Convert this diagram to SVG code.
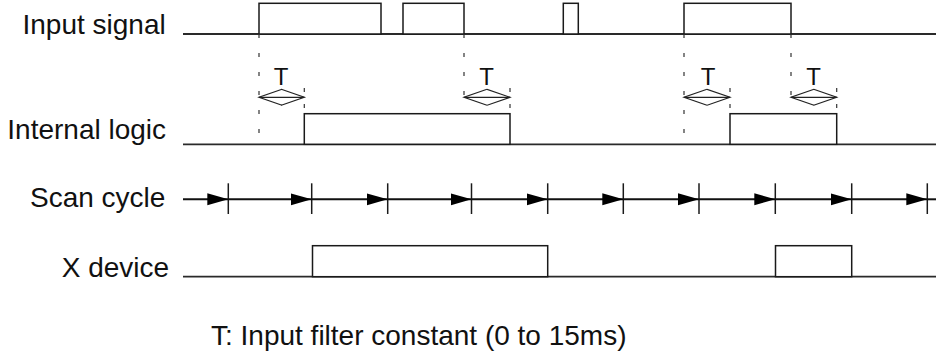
<svg xmlns="http://www.w3.org/2000/svg" width="938" height="353" viewBox="0 0 938 353">
<style>
.lbl{font-family:"Liberation Sans",Arial,sans-serif;font-size:28px;fill:#111}
.tl{font-family:"Liberation Sans",Arial,sans-serif;font-size:24px;fill:#111;text-anchor:middle}
.base{stroke:#2a2a2a;stroke-width:1.8;fill:none}
.pulse{stroke:#1a1a1a;stroke-width:1.5;fill:#fff}
.dash{stroke:#333;stroke-width:1.2;stroke-dasharray:4 15;fill:none}
.dash2{stroke:#333;stroke-width:1.2;stroke-dasharray:4 12;fill:none}
.tick{stroke:#1a1a1a;stroke-width:1.5}
.scan{stroke:#111;stroke-width:2;fill:none;marker-end:url(#fa)}
.tarr{stroke:#222;stroke-width:1.2;fill:none;marker-start:url(#oa);marker-end:url(#oa)}
</style>
<defs>
<marker id="fa" markerUnits="userSpaceOnUse" markerWidth="22" markerHeight="14" refX="21" refY="6" orient="auto">
<path d="M0,0 L21,6 L0,12 z" fill="#000"/>
</marker>
<marker id="oa" markerUnits="userSpaceOnUse" markerWidth="26" markerHeight="20" refX="23.5" refY="9" orient="auto-start-reverse">
<path d="M0.5,1 L23.5,9 L0.5,17" fill="none" stroke="#222" stroke-width="1.2"/>
</marker>
</defs>

<g id="input-signal">
<text class="lbl" x="22.5" y="34.3">Input signal</text>
<line class="base" x1="183" y1="34" x2="936" y2="34"/>
<rect class="pulse" x="259" y="3.3" width="122" height="30.7"/>
<rect class="pulse" x="403" y="3.3" width="61" height="30.7"/>
<rect class="pulse" x="563.3" y="3.3" width="15" height="30.7"/>
<rect class="pulse" x="684" y="3.3" width="107" height="30.7"/>
</g>

<g id="internal-logic">
<text class="lbl" x="7.3" y="139.3">Internal logic</text>
<line class="base" x1="183" y1="144.3" x2="936" y2="144.3"/>
<rect class="pulse" x="304.3" y="113.7" width="205.7" height="30.6"/>
<rect class="pulse" x="730" y="113.7" width="106.7" height="30.6"/>
</g>

<g id="scan-cycle">
<text class="lbl" x="30" y="207">Scan cycle</text>
<line class="tick" x1="228.3" y1="183.3" x2="228.3" y2="214"/>
<line class="tick" x1="311.7" y1="183.3" x2="311.7" y2="214"/>
<line class="tick" x1="387.7" y1="183.3" x2="387.7" y2="214"/>
<line class="tick" x1="471.5" y1="183.3" x2="471.5" y2="214"/>
<line class="tick" x1="547.7" y1="183.3" x2="547.7" y2="214"/>
<line class="tick" x1="623.3" y1="183.3" x2="623.3" y2="214"/>
<line class="tick" x1="699" y1="183.3" x2="699" y2="214"/>
<line class="tick" x1="775.3" y1="183.3" x2="775.3" y2="214"/>
<line class="tick" x1="851.7" y1="183.3" x2="851.7" y2="214"/>
<line class="tick" x1="927.3" y1="183.3" x2="927.3" y2="214"/>
</g>

<g id="x-device">
<text class="lbl" x="61.7" y="276.7">X device</text>
<line class="base" x1="183" y1="276.7" x2="936" y2="276.7"/>
<rect class="pulse" x="312.5" y="245.7" width="235.2" height="31"/>
<rect class="pulse" x="775.5" y="245.7" width="76.2" height="31"/>
</g>

<g id="connectors">
<line class="scan" x1="183" y1="199.3" x2="228.3" y2="199.3"/>
<line class="scan" x1="228.3" y1="199.3" x2="311.7" y2="199.3"/>
<line class="scan" x1="311.7" y1="199.3" x2="387.7" y2="199.3"/>
<line class="scan" x1="387.7" y1="199.3" x2="471.5" y2="199.3"/>
<line class="scan" x1="471.5" y1="199.3" x2="547.7" y2="199.3"/>
<line class="scan" x1="547.7" y1="199.3" x2="623.3" y2="199.3"/>
<line class="scan" x1="623.3" y1="199.3" x2="699" y2="199.3"/>
<line class="scan" x1="699" y1="199.3" x2="775.3" y2="199.3"/>
<line class="scan" x1="775.3" y1="199.3" x2="851.7" y2="199.3"/>
<line class="scan" x1="851.7" y1="199.3" x2="927.3" y2="199.3"/>
<line x1="927.3" y1="199.3" x2="936" y2="199.3" stroke="#111" stroke-width="2"/>

<line class="dash" x1="259" y1="34" x2="259" y2="136"/>
<line class="dash" x1="464" y1="34" x2="464" y2="98"/>
<line class="dash" x1="684" y1="34" x2="684" y2="136"/>
<line class="dash" x1="791" y1="34" x2="791" y2="98"/>
<line class="dash2" x1="304.3" y1="88" x2="304.3" y2="113"/>
<line class="dash2" x1="510" y1="88" x2="510" y2="113"/>
<line class="dash2" x1="730" y1="88" x2="730" y2="113"/>
<line class="dash2" x1="836.7" y1="88" x2="836.7" y2="113"/>

<line class="tarr" x1="259" y1="97.3" x2="304.3" y2="97.3"/>
<line class="tarr" x1="464" y1="97.3" x2="510" y2="97.3"/>
<line class="tarr" x1="684" y1="97.3" x2="730" y2="97.3"/>
<line class="tarr" x1="791" y1="97.3" x2="836.7" y2="97.3"/>
<text class="tl" x="281" y="85">T</text>
<text class="tl" x="486.5" y="85">T</text>
<text class="tl" x="708" y="85">T</text>
<text class="tl" x="813.5" y="85">T</text>
</g>

<text class="lbl" x="211" y="345">T: Input filter constant (0 to 15ms)</text>
</svg>
